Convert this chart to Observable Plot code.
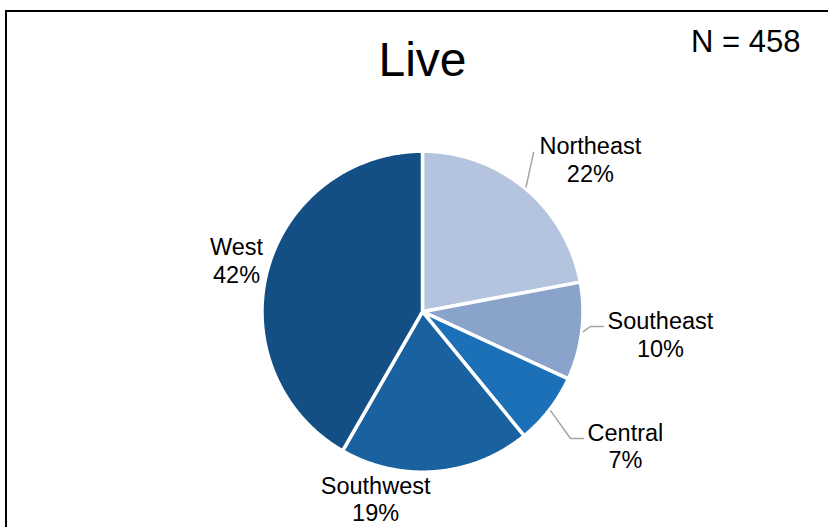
<!DOCTYPE html>
<html>
<head>
<meta charset="utf-8">
<script src="https://cdn.jsdelivr.net/npm/d3@7"></script>
<script src="https://cdn.jsdelivr.net/npm/@observablehq/plot@0.6"></script>
<style>
  html, body { margin: 0; padding: 0; background: #fff; overflow: hidden; }
  #wrap { position: relative; width: 828px; height: 527px; }
  #border { position: absolute; left: 5px; top: 10px; width: 840px; height: 540px; border: 2px solid #000; box-sizing: border-box; pointer-events: none; }
  #chart { position: absolute; left: 0; top: 0; }
</style>
</head>
<body>
<div id="wrap"><div id="chart"></div><div id="border"></div></div>
<script>
// ---- data ----
const categories = ["Northeast", "Southeast", "Central", "Southwest", "West"];
// estimated respondent counts (N = 458); labels show rounded %
const counts = [101, 45, 33, 88, 191];
const title = "Live";
const sampleNote = "N = 458";

// ---- style / layout ----
const sliceColors = ["#b4c3de", "#8aa3cb", "#1b70b8", "#1a61a0", "#134f85"];
// label placement: angle nudge (deg) from slice mid-angle, radius in pie radii
const labelNudge = [8.0, -1.75, -4.3, 18.8, 0.5];
const labelRadius = [1.414, 1.489, 1.515, 1.200, 1.202];
// leader lines (in pie radii): elbow and end points
const leaders = {
  Northeast: [[0.692, 0.992]],
  Southeast: [[1.047, -0.092], [1.128, -0.092]],
  Central: [[0.922, -0.790], [1.003, -0.790]]
};

const total = d3.sum(counts);
const polar = (deg, r) => {
  const a = deg * Math.PI / 180;
  return {x: r * Math.sin(a), y: r * Math.cos(a)};
};

let cum = 0;
const slices = categories.map((name, i) => {
  const a0 = cum / total * 360;
  cum += counts[i];
  const a1 = cum / total * 360;
  return {name, pct: Math.round(counts[i] / total * 100), a0, a1, mid: (a0 + a1) / 2, i};
});

// slice outlines (center -> arc -> center)
const slicePts = [];
for (const s of slices) {
  slicePts.push({name: s.name, x: 0, y: 0});
  const n = Math.max(2, Math.ceil((s.a1 - s.a0) / 0.5));
  for (let k = 0; k <= n; k++) {
    const p = polar(s.a0 + (s.a1 - s.a0) * k / n, 1);
    slicePts.push({name: s.name, ...p});
  }
  slicePts.push({name: s.name, x: 0, y: 0});
}

const labels = slices.map(s => ({
  name: s.name,
  text: `${s.name}\n${s.pct}%`,
  ...polar(s.mid + labelNudge[s.i], labelRadius[s.i])
}));

const leaderPts = [];
for (const s of slices) {
  if (!leaders[s.name]) continue;
  leaderPts.push({name: s.name, ...polar(s.mid, 1.01)});
  for (const [x, y] of leaders[s.name]) leaderPts.push({name: s.name, x, y});
}

const font = "'Liberation Sans', Arial, sans-serif";

const chart = Plot.plot({
  width: 828,
  height: 527,
  margin: 0,
  style: {fontFamily: font, background: "transparent", overflow: "visible"},
  x: {domain: [-1, 1], range: [261.5, 582.5], axis: null},
  y: {domain: [-1, 1], range: [471.7, 150.7], axis: null},
  color: {domain: categories, range: sliceColors},
  marks: [
    Plot.line(slicePts, {x: "x", y: "y", z: "name", fill: "name", stroke: "#fff", strokeWidth: 3.5, strokeLinejoin: "round"}),
    Plot.line(leaderPts, {x: "x", y: "y", z: "name", stroke: "#a6a6a6", strokeWidth: 1.5}),
    Plot.text(labels, {x: "x", y: "y", text: "text", fontSize: 23.5, lineHeight: 1.18, fill: "#000", lineAnchor: "middle"}),
    Plot.text([title], {frameAnchor: "top", dx: 8, dy: 60, fontSize: 48, fill: "#000", lineAnchor: "middle"}),
    Plot.text([sampleNote], {frameAnchor: "top-right", dx: -28, dy: 42, fontSize: 31, fill: "#000", textAnchor: "end", lineAnchor: "middle"})
  ]
});
document.getElementById("chart").appendChild(chart);
</script>
</body>
</html>
